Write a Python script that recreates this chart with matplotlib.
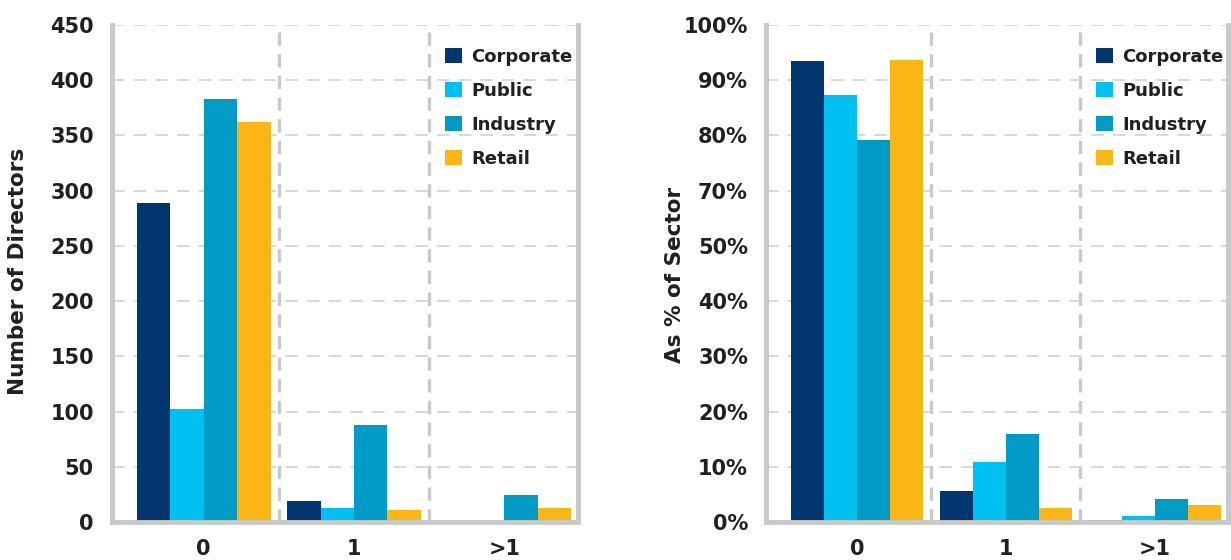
import numpy as np
import matplotlib
matplotlib.use("Agg")
import matplotlib.pyplot as plt
from matplotlib.ticker import FuncFormatter

# directors per sector, split by number of ... (0, 1, >1)
groups = ["0", "1", ">1"]
sectors = ["Corporate", "Public", "Industry", "Retail"]
colors = ["#02366F", "#00C1F2", "#019CC5", "#FBB615"]

counts_corporate = [289, 19, 1]
counts_public = [102, 13, 0]
counts_industry = [383, 88, 24]
counts_retail = [362, 11, 13]

pct_corporate = [93.5, 5.6, 0.3]
pct_public = [87.3, 10.9, 1.1]
pct_industry = [79.1, 16.0, 4.2]
pct_retail = [93.6, 2.5, 3.1]

count_ticks = [0, 50, 100, 150, 200, 250, 300, 350, 400, 450]
pct_ticks = [0, 10, 20, 30, 40, 50, 70, 80, 90, 100]

counts = [counts_corporate, counts_public, counts_industry, counts_retail]
pcts = [pct_corporate, pct_public, pct_industry, pct_retail]

plt.rcParams['font.family'] = ['DejaVu Sans']
plt.rcParams['font.weight'] = 'bold'
TEXT = "#231F20"
SPINE = "#C8C9CA"
GRID = "#D6D6D6"

W, H = 1231, 560
fig = plt.figure(figsize=(W / 100, H / 100), dpi=100)


def px_axes(x0, x1, y_top, y_bot):
    return fig.add_axes([x0 / W, 1 - y_bot / H, (x1 - x0) / W, (y_bot - y_top) / H])


# percentage axis skips the 50-60 band
def squash(y):
    y = np.asarray(y, dtype=float)
    return np.where(y <= 50, y, np.where(y >= 60, y - 10, 50.0))


def unsquash(v):
    v = np.asarray(v, dtype=float)
    return np.where(v <= 50, v, v + 10)


def draw_panel(ax, series, ticks, ymax, fmt):
    x = np.arange(len(groups))
    w = 0.2225
    for i, (name, vals, c) in enumerate(zip(sectors, series, colors)):
        ax.bar(x + (i - 1.5) * w, vals, width=w, color=c, label=name, zorder=2)

    ax.set_xlim(-0.61, 2.49)
    ax.set_ylim(0, ymax)
    ax.set_xticks(x)
    ax.set_xticklabels(groups)
    ax.set_yticks(ticks)
    ax.yaxis.set_major_formatter(FuncFormatter(fmt))
    ax.tick_params(axis='x', length=0, pad=12, labelsize=15, labelcolor=TEXT)
    ax.tick_params(axis='y', length=0, pad=13, labelsize=15, labelcolor=TEXT)

    ax.grid(axis='y', color=GRID, linewidth=1.3, linestyle=(0, (7, 5)), zorder=0)
    for sep in [0.5, 1.5]:
        ax.axvline(sep, color=SPINE, linewidth=2.4, linestyle=(0, (4, 2.5)), zorder=1)

    ax.spines['top'].set_visible(False)
    for side in ['left', 'bottom', 'right']:
        ax.spines[side].set_color(SPINE)
        ax.spines[side].set_linewidth(3.5)
        ax.spines[side].set_zorder(3)

    ax.legend(loc='upper left', bbox_to_anchor=(0.7146, 0.954), frameon=False,
              fontsize=13, handlelength=0.95, handleheight=0.95,
              handletextpad=0.5, labelspacing=0.88, borderpad=0,
              borderaxespad=0, labelcolor=TEXT)


left = px_axes(112, 578, 25, 522)
draw_panel(left, counts, count_ticks, 450, lambda v, p: f"{v:.0f}")

right = px_axes(766, 1228, 25, 522)
right.set_yscale('function', functions=(squash, unsquash))
draw_panel(right, pcts, pct_ticks, 100, lambda v, p: f"{v:.0f}%")

fig.text(18 / W, 1 - 271 / H, "Number of Directors", rotation=90,
         ha='center', va='center', fontsize=15.5, color=TEXT)
fig.text(675 / W, 1 - 275 / H, "As % of Sector", rotation=90,
         ha='center', va='center', fontsize=15.5, color=TEXT)

fig.savefig("out.png", dpi=100)
